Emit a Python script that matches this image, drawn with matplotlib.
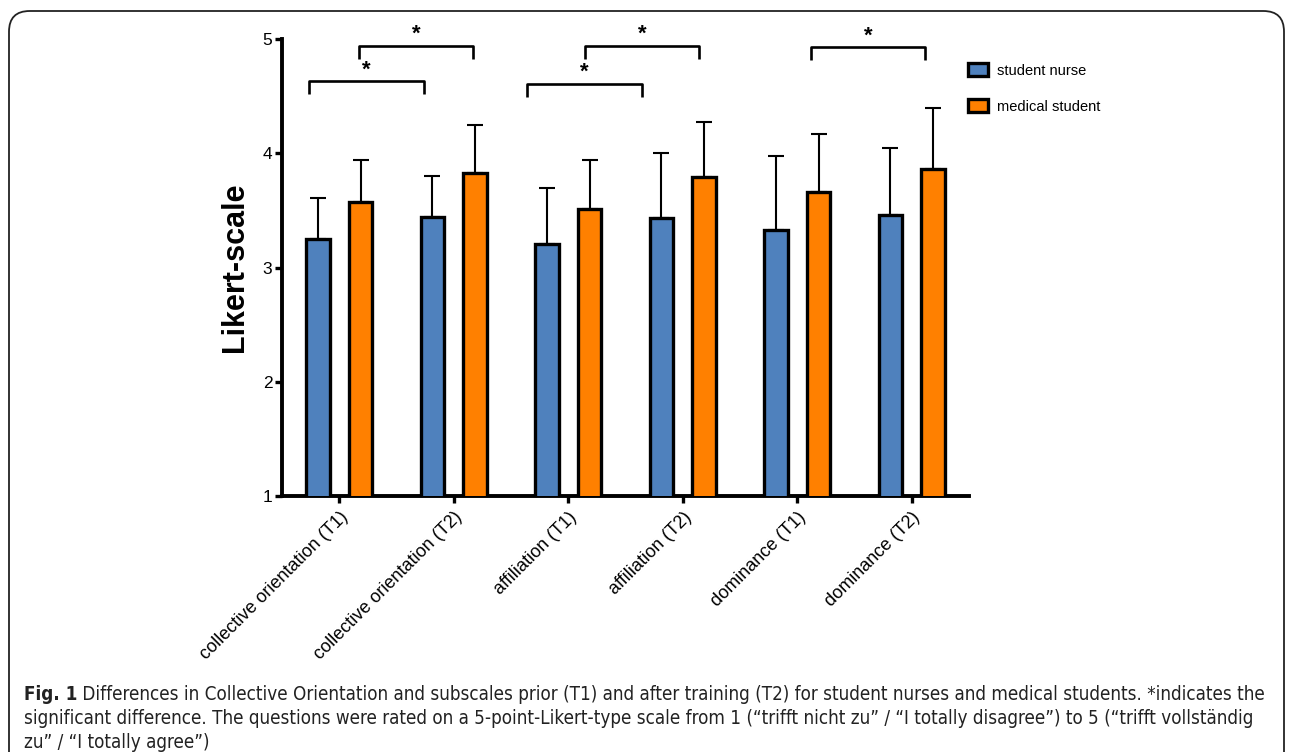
import matplotlib.pyplot as plt
import numpy as np
from matplotlib import font_manager
from matplotlib.font_manager import FontProperties
from matplotlib.patches import FancyBboxPatch

categories = ['collective orientation (T1)', 'collective orientation (T2)',
              'affiliation (T1)', 'affiliation (T2)',
              'dominance (T1)', 'dominance (T2)']
series_names = ['student nurse', 'medical student']
nurse_mean = [3.25, 3.44, 3.21, 3.43, 3.33, 3.46]
nurse_sd = [0.36, 0.36, 0.49, 0.57, 0.65, 0.59]
medic_mean = [3.57, 3.83, 3.51, 3.79, 3.66, 3.86]
medic_sd = [0.37, 0.42, 0.43, 0.48, 0.51, 0.54]

# significance brackets: x start, x end, height (data units)
brackets = [(-0.26, 0.74, 4.63), (0.175, 1.17, 4.94),
            (1.64, 2.64, 4.61), (2.15, 3.14, 4.94),
            (4.12, 5.12, 4.93)]

caption_bold = 'Fig. 1'
caption_lines = [
    ' Differences in Collective Orientation and subscales prior (T1) and after training (T2) for student nurses and medical students. *indicates the',
    'significant difference. The questions were rated on a 5-point-Likert-type scale from 1 (\u201ctrifft nicht zu\u201d / \u201cI totally disagree\u201d) to 5 (\u201ctrifft vollst\u00e4ndig',
    'zu\u201d / \u201cI totally agree\u201d)',
]

colors = ['#4f81bd', '#ff8000']

plt.rcParams['font.family'] = ['Liberation Sans', 'DejaVu Sans']


def pick_narrow(bold):
    # look for any installed condensed / narrow sans face
    for f in font_manager.fontManager.ttflist:
        name = f.fname.lower()
        if not ('condensed' in name or 'narrow' in name):
            continue
        if 'italic' in name or 'oblique' in name or 'mono' in name or 'serif' in name:
            continue
        if ('bold' in name) == bold:
            return FontProperties(fname=f.fname)
    return None


cap_reg = pick_narrow(False) or FontProperties(family=['Liberation Sans', 'DejaVu Sans'])
cap_bold = pick_narrow(True) or FontProperties(family=['Liberation Sans', 'DejaVu Sans'], weight='bold')

W, H = 1292, 752
fig = plt.figure(figsize=(W / 100, H / 100), dpi=100)
ax = fig.add_axes([282 / W, 1 - 496 / H, 687 / W, 457 / H])

x = np.arange(len(categories))
width = 0.205
off = 0.187
ax.bar(x - off, nurse_mean, width, color=colors[0], edgecolor='black',
       linewidth=2.4, label=series_names[0], zorder=3)
ax.bar(x + off, medic_mean, width, color=colors[1], edgecolor='black',
       linewidth=2.4, label=series_names[1], zorder=3)
zeros = np.zeros(len(x))
ax.errorbar(x - off, nurse_mean, yerr=[zeros, nurse_sd], fmt='none',
            ecolor='black', elinewidth=1.5, capsize=5.8, capthick=1.5, zorder=2)
ax.errorbar(x + off, medic_mean, yerr=[zeros, medic_sd], fmt='none',
            ecolor='black', elinewidth=1.5, capsize=5.8, capthick=1.5, zorder=2)

drop = 0.115
for x0, x1, h in brackets:
    ax.plot([x0, x0, x1, x1], [h - drop, h, h, h - drop], color='black',
            lw=1.9, clip_on=False, solid_capstyle='butt', zorder=4)
    ax.annotate('*', xy=((x0 + x1) / 2, h), xytext=(0, 0.5),
                textcoords='offset points', ha='center', va='bottom',
                fontsize=16, fontweight='bold', annotation_clip=False)

ax.set_xlim(-0.5, 5.5)
ax.set_ylim(1, 5)
ax.set_yticks([1, 2, 3, 4, 5])
ax.set_xticks(x)
ax.set_xticklabels(categories, rotation=45, ha='right', va='top',
                   rotation_mode='anchor', fontsize=13)
ax.tick_params(axis='y', labelsize=12.5, width=2.4, length=5, pad=2)
ax.tick_params(axis='x', width=2.4, length=5, pad=4)
for s in ['top', 'right']:
    ax.spines[s].set_visible(False)
for s in ['left', 'bottom']:
    ax.spines[s].set_linewidth(2.8)
ax.set_ylabel('Likert-scale', fontsize=22, fontweight='bold')
ax.yaxis.set_label_coords(-0.046, 0.5)

fig.legend(loc='upper left', bbox_to_anchor=(968 / W, 1 - 63 / H),
           frameon=False, fontsize=10.5, handlelength=1.4, handleheight=1.0,
           labelspacing=1.5, handletextpad=0.6, borderpad=0, borderaxespad=0)

# rounded frame around the figure and caption
frame = FancyBboxPatch((9 / W, -0.05), 1275 / W, 1 - 11 / H + 0.05,
                       boxstyle='round,pad=0,rounding_size=0.016',
                       transform=fig.transFigure, fill=False,
                       edgecolor='#222222', linewidth=1.3,
                       mutation_aspect=W / H)
fig.patches.append(frame)

# caption, scaled to fill the text width
line_y = [694, 718, 742]
left = 24
target = 1252
fs = 14
renderer = fig.canvas.get_renderer()
tb = fig.text(left / W, 1 - line_y[0] / H, caption_bold, fontproperties=cap_bold,
              fontsize=fs, va='center', color='#222222')
tr = fig.text(0, 0, caption_lines[0], fontproperties=cap_reg, fontsize=fs,
              va='center', color='#222222')
wtot = tb.get_window_extent(renderer).width + tr.get_window_extent(renderer).width
fs = fs * target / wtot
tb.set_fontsize(fs)
tr.set_fontsize(fs)
wb = tb.get_window_extent(renderer).width
tr.set_position(((left + wb) / W, 1 - line_y[0] / H))
for ly, txt in zip(line_y[1:], caption_lines[1:]):
    fig.text(left / W, 1 - ly / H, txt, fontproperties=cap_reg, fontsize=fs,
             va='center', color='#222222')

fig.savefig('out.png', dpi=100)
